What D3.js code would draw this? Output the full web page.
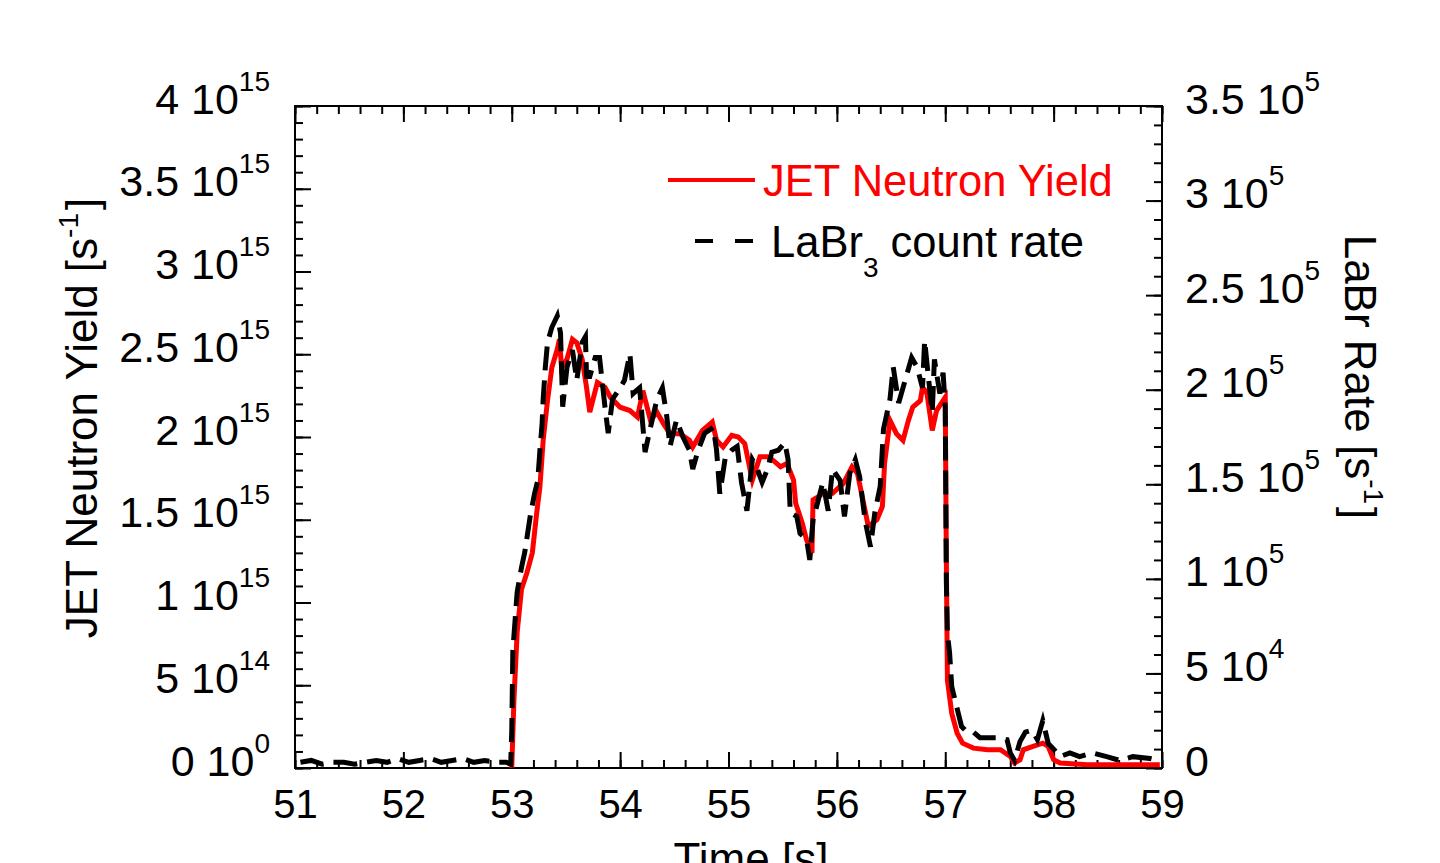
<!DOCTYPE html>
<html>
<head>
<meta charset="utf-8">
<script src="https://cdn.jsdelivr.net/npm/d3@7"></script>
<style>
  body { margin: 0; background: #fff; }
  svg { display: block; font-family: "Liberation Sans", Arial, sans-serif; }
</style>
</head>
<body>
<svg width="1440" height="863"></svg>
<script>
// JET neutron yield (units of 1e15 s^-1)
var tRed = [
  53.0, 53.02, 53.05, 53.09, 53.14, 53.19, 53.23, 53.26,
  53.29, 53.33, 53.37, 53.42, 53.44, 53.46, 53.51, 53.56, 53.60, 53.65,
  53.69, 53.72, 53.79, 53.86, 53.91, 54.00, 54.09, 54.16, 54.21, 54.28,
  54.34, 54.40, 54.46, 54.55, 54.64, 54.67, 54.76, 54.85, 54.89, 54.95,
  55.03, 55.09, 55.15, 55.20, 55.22, 55.29, 55.36, 55.41, 55.48, 55.54,
  55.60, 55.62, 55.68, 55.72, 55.77, 55.78, 55.83, 55.87, 55.96, 56.06,
  56.14, 56.19, 56.24, 56.29, 56.37, 56.42, 56.44, 56.49, 56.55, 56.61,
  56.66, 56.70, 56.77, 56.79, 56.83, 56.88, 56.92, 56.98, 57.00, 57.01,
  57.02, 57.06, 57.11, 57.16, 57.26, 57.39, 57.51, 57.60, 57.64, 57.69,
  57.72, 57.81, 57.90, 57.95, 58.00, 58.06, 58.31, 58.61, 58.98
];
var yieldE15 = [
  0, 0.41, 0.82, 1.08, 1.18, 1.30, 1.54, 1.70,
  1.98, 2.22, 2.42, 2.53, 2.59, 2.42, 2.47, 2.59, 2.57, 2.47,
  2.30, 2.15, 2.33, 2.30, 2.24, 2.18, 2.16, 2.12, 2.28, 2.10,
  2.15, 2.08, 2.02, 2.02, 1.98, 1.94, 2.04, 2.09, 1.98, 1.94,
  2.01, 2.00, 1.96, 1.80, 1.74, 1.88, 1.88, 1.86, 1.82, 1.84,
  1.74, 1.60, 1.48, 1.38, 1.30, 1.62, 1.64, 1.66, 1.66, 1.72,
  1.82, 1.78, 1.62, 1.46, 1.50, 1.58, 1.84, 2.10, 2.02, 1.98,
  2.10, 2.18, 2.22, 2.30, 2.27, 2.04, 2.16, 2.22, 2.24, 1.26,
  0.53, 0.33, 0.21, 0.15, 0.12, 0.11, 0.11, 0.07, 0.03, 0.05,
  0.11, 0.13, 0.15, 0.13, 0.05, 0.03, 0.02, 0.02, 0.02
];

// LaBr3 count rate (units of 1e5 s^-1)
var tBlack = [
  51.05, 51.15, 51.25, 51.35, 51.45, 51.55, 51.65, 51.75, 51.85, 51.95,
  52.05, 52.15, 52.25, 52.35, 52.45, 52.55, 52.65, 52.75, 52.85, 52.95,
  52.99, 53.00, 53.01, 53.05, 53.09, 53.12, 53.17, 53.21, 53.24, 53.26,
  53.28, 53.29, 53.31, 53.33, 53.37, 53.42, 53.45, 53.47, 53.51, 53.56,
  53.60, 53.65, 53.68, 53.69, 53.72, 53.77, 53.81, 53.86, 53.89, 53.93,
  54.00, 54.04, 54.09, 54.12, 54.18, 54.23, 54.28, 54.34, 54.39, 54.43,
  54.46, 54.52, 54.58, 54.64, 54.67, 54.72, 54.78, 54.86, 54.89, 54.92,
  54.97, 55.03, 55.08, 55.12, 55.17, 55.22, 55.26, 55.31, 55.36, 55.40,
  55.46, 55.52, 55.55, 55.57, 55.63, 55.66, 55.72, 55.75, 55.78, 55.83,
  55.87, 55.92, 55.96, 56.03, 56.07, 56.12, 56.17, 56.21, 56.26, 56.31,
  56.35, 56.40, 56.43, 56.49, 56.52, 56.57, 56.63, 56.69, 56.74, 56.79,
  56.81, 56.84, 56.88, 56.90, 56.95, 56.98, 57.00, 57.01, 57.02, 57.04,
  57.06, 57.09, 57.12, 57.15, 57.20, 57.26, 57.32, 57.39, 57.48, 57.57,
  57.60, 57.64, 57.69, 57.74, 57.80, 57.85, 57.90, 57.95, 58.00, 58.06,
  58.15, 58.24, 58.36, 58.49, 58.61, 58.73, 58.89, 58.96
];
var labrE5 = [
  0.03, 0.04, 0.02, 0.03, 0.03, 0.02, 0.03, 0.04, 0.03, 0.05,
  0.03, 0.04, 0.05, 0.03, 0.04, 0.05, 0.03, 0.04, 0.03, 0.03,
  0.02, 0.19, 0.62, 0.93, 1.06, 1.14, 1.33, 1.45, 1.52, 1.68,
  1.82, 1.95, 2.12, 2.25, 2.33, 2.39, 2.30, 1.91, 2.12, 2.21,
  2.05, 2.25, 2.28, 2.07, 2.07, 2.17, 2.17, 1.91, 1.77, 1.95,
  2.01, 2.05, 2.19, 1.98, 2.01, 1.67, 1.80, 1.95, 2.01, 1.86,
  1.70, 1.84, 1.75, 1.68, 1.58, 1.68, 1.77, 1.80, 1.68, 1.45,
  1.64, 1.68, 1.70, 1.51, 1.36, 1.63, 1.59, 1.51, 1.58, 1.67,
  1.68, 1.72, 1.63, 1.35, 1.33, 1.24, 1.21, 1.10, 1.31, 1.42,
  1.51, 1.36, 1.58, 1.52, 1.33, 1.56, 1.63, 1.54, 1.31, 1.17,
  1.35, 1.49, 1.79, 1.95, 2.12, 1.93, 2.05, 2.17, 2.12, 2.01,
  2.26, 2.09, 1.88, 2.16, 1.98, 2.09, 1.91, 0.99, 0.71, 0.61,
  0.43, 0.36, 0.29, 0.22, 0.19, 0.19, 0.16, 0.16, 0.16, 0.15,
  0.08, 0.04, 0.14, 0.19, 0.20, 0.15, 0.25, 0.13, 0.10, 0.06,
  0.08, 0.06, 0.08, 0.06, 0.04, 0.06, 0.05, 0.04
];

// tick labels
var xTicks = [51, 52, 53, 54, 55, 56, 57, 58, 59];
var leftTicks = [0, 0.5, 1, 1.5, 2, 2.5, 3, 3.5, 4];
var leftMant = ["0", "5", "1", "1.5", "2", "2.5", "3", "3.5", "4"];
var leftExp  = ["0", "14", "15", "15", "15", "15", "15", "15", "15"];
var rightTicks = [0, 0.5, 1, 1.5, 2, 2.5, 3, 3.5];
var rightMant = ["0", "5", "1", "1.5", "2", "2.5", "3", "3.5"];
var rightExp  = ["", "4", "5", "5", "5", "5", "5", "5"];

var svg = d3.select("svg"),
    margin = {top: 106, right: 278, bottom: 95, left: 295},
    width = +svg.attr("width") - margin.left - margin.right,
    height = +svg.attr("height") - margin.top - margin.bottom,
    g = svg.append("g").attr("transform", "translate(" + margin.left + "," + margin.top + ")");

var x = d3.scaleLinear().domain([51, 59]).range([0, width]);
var yL = d3.scaleLinear().domain([0, 4]).range([height, 0]);
var yR = d3.scaleLinear().domain([0, 3.5]).range([height, 0]);

var fs = 40, yfs = 43, supFs = 28, titleFs = 44;

function styleAxis(sel) {
  sel.attr("font-family", null).attr("font-size", fs);
  sel.select(".domain").remove();
  sel.selectAll(".tick line").attr("stroke", "#000").attr("stroke-width", 2);
  sel.selectAll(".tick text").attr("fill", "#000");
}

function supLabels(sel, mant, exp) {
  sel.attr("font-size", yfs);
  sel.selectAll(".tick text").each(function(d, i) {
    var t = d3.select(this).text(mant[i] + (exp[i] ? " 10" : ""));
    if (exp[i]) t.append("tspan").attr("dy", -23).attr("font-size", supFs).text(exp[i]);
  });
}

// minor ticks
g.append("g").attr("transform", "translate(0," + height + ")")
  .call(d3.axisBottom(x).tickValues(d3.range(51, 59.01, 0.2)).tickSize(-8).tickFormat(""))
  .call(styleAxis);
g.append("g")
  .call(d3.axisTop(x).tickValues(d3.range(51, 59.01, 0.2)).tickSize(-8).tickFormat(""))
  .call(styleAxis);
g.append("g")
  .call(d3.axisLeft(yL).tickValues(d3.range(0, 4.01, 0.1)).tickSize(-8).tickFormat(""))
  .call(styleAxis);
g.append("g").attr("transform", "translate(" + width + ",0)")
  .call(d3.axisRight(yR).tickValues(d3.range(0, 3.51, 0.1)).tickSize(-8).tickFormat(""))
  .call(styleAxis);

// major ticks + labels
var xAxis = g.append("g").attr("transform", "translate(0," + height + ")")
  .call(d3.axisBottom(x).tickValues(xTicks).tickSize(-16).tickFormat(d3.format("d")))
  .call(styleAxis);
xAxis.selectAll(".tick text").attr("y", 50).attr("dy", 0);

g.append("g")
  .call(d3.axisTop(x).tickValues(xTicks).tickSize(-16).tickFormat(""))
  .call(styleAxis);

var yAxisL = g.append("g")
  .call(d3.axisLeft(yL).tickValues(leftTicks).tickSize(-16).tickPadding(25))
  .call(styleAxis);
yAxisL.selectAll(".tick text").attr("dy", 7);
supLabels(yAxisL, leftMant, leftExp);

var yAxisR = g.append("g").attr("transform", "translate(" + width + ",0)")
  .call(d3.axisRight(yR).tickValues(rightTicks).tickSize(-16).tickPadding(23))
  .call(styleAxis);
yAxisR.selectAll(".tick text").attr("dy", 7);
supLabels(yAxisR, rightMant, rightExp);

// frame
g.append("rect").attr("width", width).attr("height", height)
  .attr("fill", "none").attr("stroke", "#000").attr("stroke-width", 2);

// series
var redLine = d3.line()
  .x(function(d, i) { return x(tRed[i]); })
  .y(function(d) { return yL(d); });
var blackLine = d3.line()
  .x(function(d, i) { return x(tBlack[i]); })
  .y(function(d) { return yR(d); });

g.append("path").datum(yieldE15)
  .attr("d", redLine)
  .attr("fill", "none").attr("stroke", "#ff0000").attr("stroke-width", 5)
  .attr("stroke-linejoin", "miter");

g.append("path").datum(labrE5)
  .attr("d", blackLine)
  .attr("fill", "none").attr("stroke", "#000").attr("stroke-width", 5)
  .attr("stroke-dasharray", "24,10");

// legend
var lg = svg.append("g").attr("font-size", 43.5);
lg.append("line").attr("x1", 668).attr("x2", 755).attr("y1", 180).attr("y2", 180)
  .attr("stroke", "#ff0000").attr("stroke-width", 4);
lg.append("text").attr("x", 763).attr("y", 196).attr("fill", "#ff0000").text("JET Neutron Yield");
lg.append("line").attr("x1", 695).attr("x2", 757).attr("y1", 241).attr("y2", 241)
  .attr("stroke", "#000").attr("stroke-width", 4).attr("stroke-dasharray", "18,22");
var lt = lg.append("text").attr("x", 771).attr("y", 257).attr("fill", "#000");
lt.append("tspan").text("LaBr");
lt.append("tspan").attr("dy", 20).attr("font-size", supFs).text("3");
lt.append("tspan").attr("dy", -20).text(" count rate");

// axis titles
var tl = svg.append("text").attr("font-size", titleFs).attr("text-anchor", "middle")
  .attr("transform", "translate(97,418) rotate(-90)");
tl.append("tspan").text("JET Neutron Yield [s");
tl.append("tspan").attr("dy", -19).attr("font-size", supFs).text("-1");
tl.append("tspan").attr("dy", 19).attr("dx", 3).text("]");

var tr = svg.append("text").attr("font-size", titleFs).attr("text-anchor", "middle")
  .attr("transform", "translate(1345,377) rotate(90)");
tr.append("tspan").text("LaBr Rate [s");
tr.append("tspan").attr("dy", -19).attr("font-size", supFs).text("-1");
tr.append("tspan").attr("dy", 19).attr("dx", 3).text("]");

svg.append("text").attr("font-size", titleFs).attr("text-anchor", "middle")
  .attr("x", 751).attr("y", 874).text("Time [s]");
</script>
</body>
</html>
